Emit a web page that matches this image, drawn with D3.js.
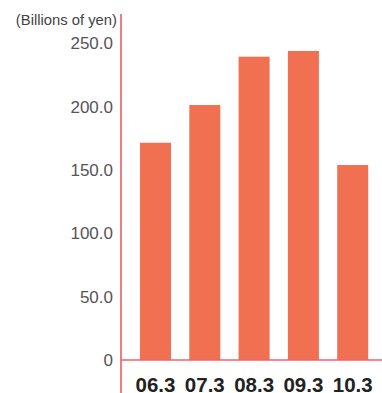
<!DOCTYPE html>
<html>
<head>
<meta charset="utf-8">
<script src="https://cdn.jsdelivr.net/npm/d3@7"></script>
<style>
  body { margin: 0; background: #fff; }
  svg { display: block; }
</style>
</head>
<body>
<svg id="chart" width="382" height="393"></svg>
<script>
const categories = ['06.3', '07.3', '08.3', '09.3', '10.3'];
const values = [171.6, 201.4, 239.6, 244.1, 154.0];
const yTicks = [0, 50, 100, 150, 200, 250];
const unitLabel = '(Billions of yen)';

const svg = d3.select('#chart');
const axisX = 121;
const baseY = 360;

const x = d3.scaleBand()
  .domain(categories)
  .range([130.85, 377.35])
  .paddingInner(0.371)
  .paddingOuter(0.1855);

const y = d3.scaleLinear()
  .domain([0, 250])
  .range([baseY, 43.5]);

// bars
svg.append('g')
  .selectAll('rect')
  .data(values)
  .join('rect')
  .attr('x', (d, i) => x(categories[i]))
  .attr('y', (d) => y(d))
  .attr('width', x.bandwidth())
  .attr('height', (d) => baseY - y(d))
  .attr('fill', '#f27052');

// y axis labels
const yAxis = svg.append('g')
  .attr('transform', `translate(${axisX},0)`)
  .call(d3.axisLeft(y)
    .tickValues(yTicks)
    .tickSize(0)
    .tickPadding(8)
    .tickFormat((d) => (d === 0 ? '0' : d3.format('.1f')(d))));
yAxis.select('.domain').remove();
yAxis.selectAll('text')
  .attr('font-family', 'Liberation Sans, Arial, sans-serif')
  .attr('font-size', 17)
  .attr('fill', '#555');

// axis lines
svg.append('line')
  .attr('x1', axisX).attr('x2', axisX)
  .attr('y1', 14).attr('y2', 393)
  .attr('stroke', '#e3262f')
  .attr('stroke-width', 1.2);

svg.append('line')
  .attr('x1', axisX).attr('x2', 382)
  .attr('y1', baseY).attr('y2', baseY)
  .attr('stroke', '#ef6068')
  .attr('stroke-width', 1.5);

// unit label
svg.append('text')
  .attr('x', 117)
  .attr('y', 25)
  .attr('text-anchor', 'end')
  .attr('font-family', 'Liberation Sans, Arial, sans-serif')
  .attr('font-size', 14.8)
  .attr('fill', '#444')
  .text(unitLabel);

// x labels
svg.append('g')
  .selectAll('text')
  .data(categories)
  .join('text')
  .attr('x', (d) => x(d) + x.bandwidth() / 2)
  .attr('y', 392)
  .attr('text-anchor', 'middle')
  .attr('font-family', 'Liberation Sans, Arial, sans-serif')
  .attr('font-weight', 'bold')
  .attr('font-size', 20.5)
  .attr('fill', '#222')
  .text((d) => d);
</script>
</body>
</html>
